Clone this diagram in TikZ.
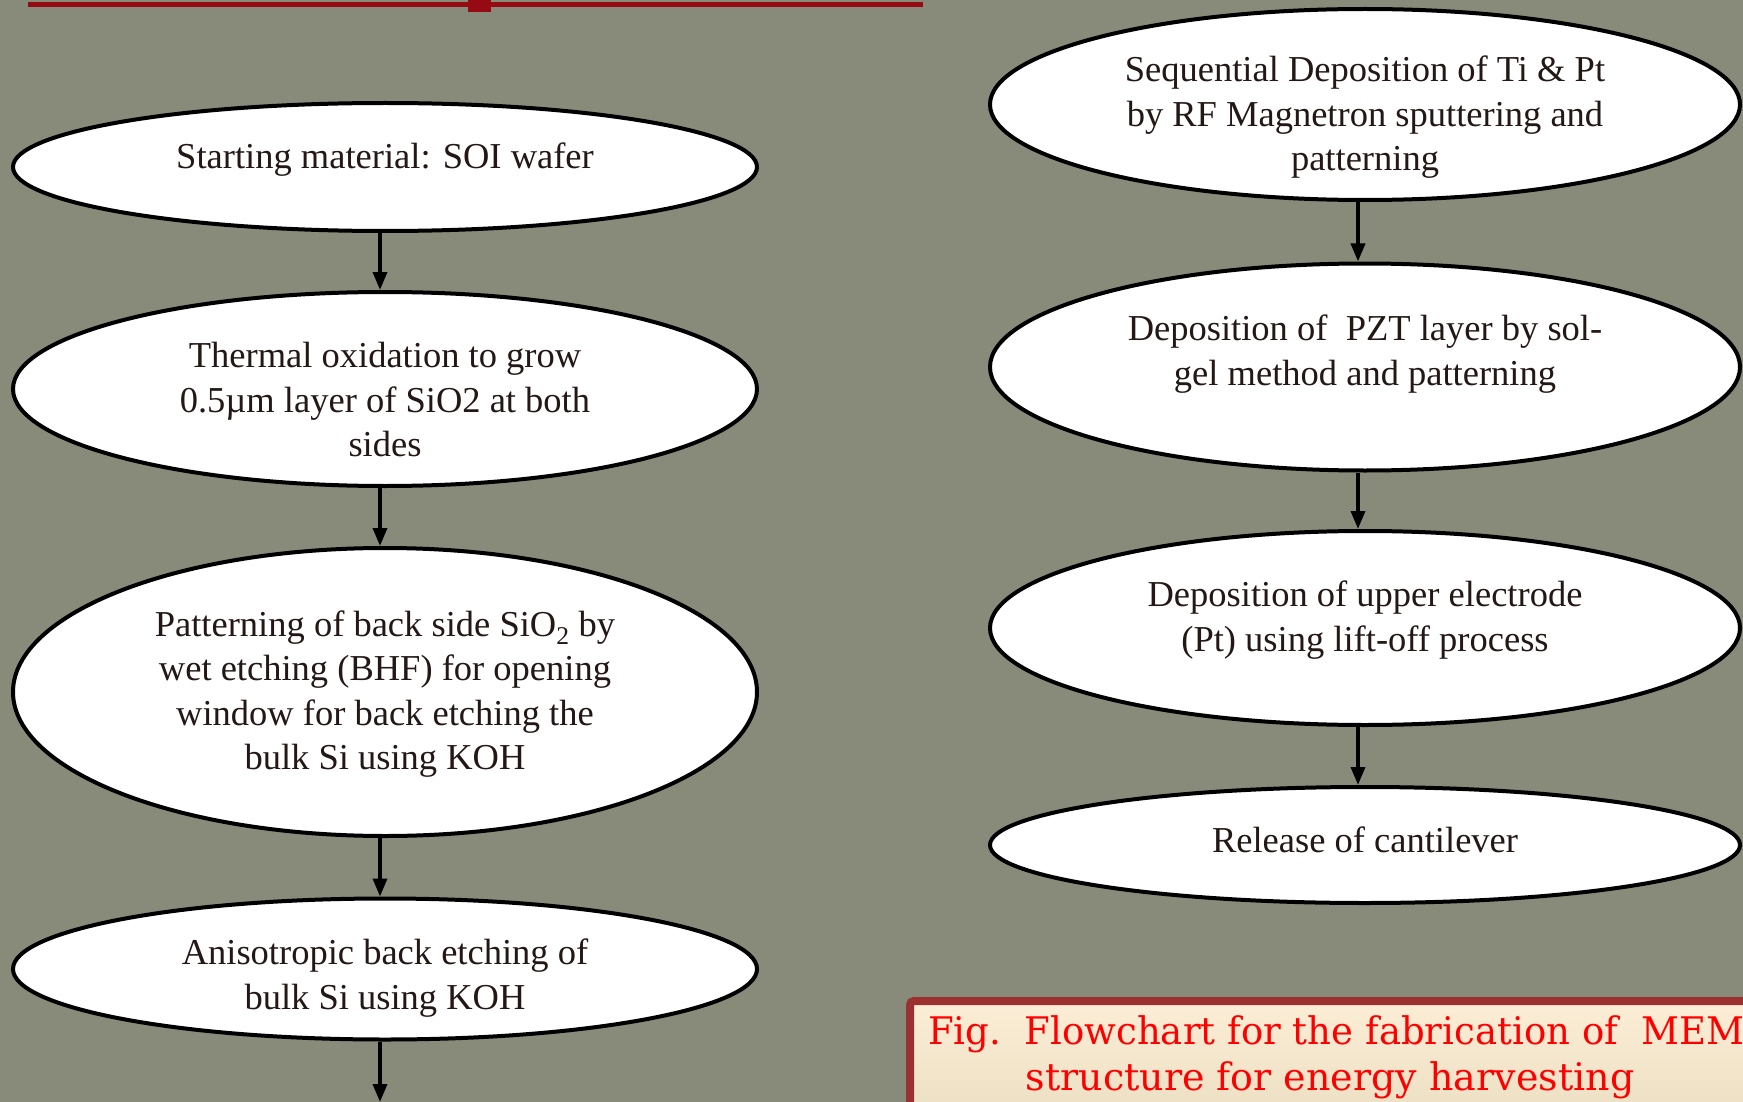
\documentclass[tikz,border=0pt]{standalone}
\usepackage{fontspec}
\setmainfont{Liberation Serif}
\newfontfamily\capfont{DejaVu Serif}
\usetikzlibrary{shapes.geometric,arrows.meta}
\definecolor{bg}{RGB}{137,139,122}
\definecolor{ink}{RGB}{35,24,21}
\definecolor{capred}{RGB}{255,0,0}
\definecolor{capborder}{RGB}{155,48,48}
\definecolor{linered}{RGB}{150,10,20}
\definecolor{creamtop}{RGB}{252,238,214}
\definecolor{creambot}{RGB}{232,220,190}
\begin{document}
\begin{tikzpicture}[x=1pt,y=-1pt,
  stepbox/.style={ellipse, draw=black, line width=4pt, fill=white, inner sep=0pt},
  steptext/.style={text=ink, align=center, inner sep=0pt, font=\fontsize{36.5}{44.5}\selectfont},
  flow/.style={line width=3.5pt, -{Triangle[length=18pt,width=14pt]}},
  captext/.style={text=capred, inner sep=0pt, font=\capfont\fontsize{38}{47}\selectfont}]
\useasboundingbox (0,0) rectangle (1743,1102);
\clip (0,0) rectangle (1743,1102);
\fill[bg] (0,0) rectangle (1743,1102);
% top rule
\draw[linered, line width=5pt] (28,5) -- (923,5);
\fill[linered] (468,0) rectangle (491,12);
% left column
\node[stepbox, minimum width=744pt, minimum height=128pt] (e1) at (385,167) {};
\node[stepbox, minimum width=744pt, minimum height=194pt] (e2) at (385,389) {};
\node[stepbox, minimum width=744pt, minimum height=288pt] (e3) at (385,692) {};
\node[stepbox, minimum width=744pt, minimum height=141pt] (e4) at (385,969) {};
\node[steptext] (t1) at (385,159.5) {Starting material: SOI wafer};
\node[steptext] (t2) at (385,400) {Thermal oxidation to grow\\0.5µm layer of SiO2 at both\\sides};
\node[steptext] (t3) at (385,694) {Patterning of back side SiO\textsubscript{2} by\\wet etching (BHF) for opening\\window for back etching the\\bulk Si using KOH};
\node[steptext] (t4) at (385,978) {Anisotropic back etching of\\bulk Si using KOH};
% right column
\node[stepbox, minimum width=750pt, minimum height=191pt] (r1) at (1365,104.5) {};
\node[stepbox, minimum width=750pt, minimum height=207pt] (r2) at (1365,367) {};
\node[stepbox, minimum width=750pt, minimum height=194pt] (r3) at (1365,628) {};
\node[stepbox, minimum width=750pt, minimum height=116pt] (r4) at (1365,845) {};
\node[steptext] (u1) at (1365,117.5) {Sequential Deposition of Ti \& Pt\\by RF Magnetron sputtering and\\patterning};
\node[steptext] (u2) at (1365,354) {Deposition of \ PZT layer by sol-\\gel method and patterning};
\node[steptext] (u3) at (1365,620) {Deposition of upper electrode\\(Pt) using lift-off process};
\node[steptext] (u4) at (1365,840) {Release of cantilever};
% connectors
\coordinate (al) at (380,0);
\coordinate (ar) at (1358,0);
\coordinate (end) at (380,1102);
\draw[flow] (e1.south -| al) -- (e2.north -| al);
\draw[flow] (e2.south -| al) -- (e3.north -| al);
\draw[flow] (e3.south -| al) -- (e4.north -| al);
\draw[flow] (e4.south -| al) -- (end);
\draw[flow] (r1.south -| ar) -- (r2.north -| ar);
\draw[flow] (r2.south -| ar) -- (r3.north -| ar);
\draw[flow] (r3.south -| ar) -- (r4.north -| ar);
% caption box
\draw[capborder, line width=8pt, rounded corners=4pt, top color=creamtop, bottom color=creambot]
  (910,1001) rectangle (1780,1140);
\node[captext, anchor=west] (c1) at (928,1034) {\scalebox{0.975}[1]{Fig.\ \ Flowchart for the fabrication of \ MEM}};
\node[captext] (c2) at (1330,1080) {structure for energy harvesting};
\end{tikzpicture}
\end{document}
